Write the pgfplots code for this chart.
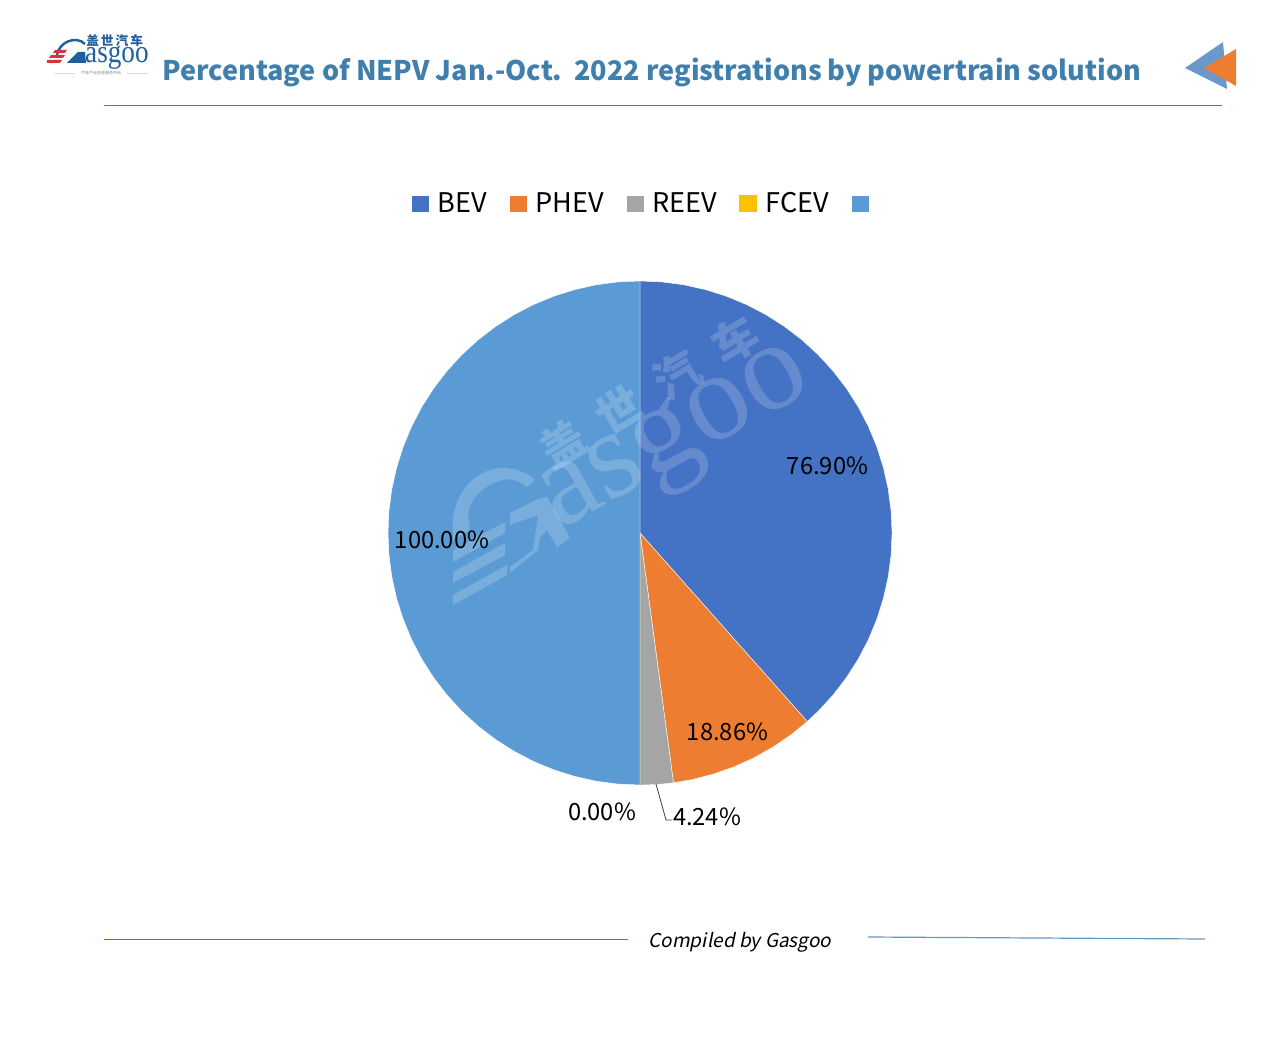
\documentclass[border=0pt]{standalone}
\usepackage{fontspec}
\setmainfont{Noto Sans CJK SC}
\newfontfamily\slantfont[FakeSlant=0.2]{Noto Sans CJK SC}
\newfontfamily\logoserif{Liberation Serif}
\usepackage{pgfplots}
\pgfplotsset{compat=1.18}
\definecolor{cBEV}{HTML}{4472C4}
\definecolor{cPHEV}{HTML}{ED7D31}
\definecolor{cREEV}{HTML}{A5A5A5}
\definecolor{cFCEV}{HTML}{FFC000}
\definecolor{cTOT}{HTML}{5B9BD5}
\definecolor{titleblue}{HTML}{3F7FAD}
\definecolor{logoblue}{HTML}{1F5F9E}
\definecolor{logored}{HTML}{D9333F}
\definecolor{arrowblue}{HTML}{6C97CB}
\begin{document}
\begin{tikzpicture}
\useasboundingbox (0,0) rectangle (960pt,793.5pt);
\begin{axis}[
  at={(0,0)}, anchor=south west,
  width=960pt, height=793.5pt, scale only axis,
  xmin=-2.53968, xmax=2.53968, ymin=-2.08333, ymax=2.11508,
  hide axis, clip=false,
  legend columns=-1,
  legend style={draw=none, fill=none, inner sep=0pt, outer sep=0pt,
    at={(0.3212,0.7948)}, anchor=south west,
    font=\fontsize{20.3pt}{22pt}\selectfont,
    /tikz/every even column/.append style={column sep=14.7pt},
    /tikz/every odd column/.append style={column sep=4pt}},
  legend image code/.code={\fill[#1] (0pt,-6.75pt) rectangle (13.5pt,6pt);},
]
% Values: BEV 76.90, PHEV 18.86, REEV 4.24, FCEV 0.00, total 100.00 (angles: half of the circle = 100)
\addplot[fill=cBEV, draw=white, line width=0.3pt, data cs=polar] coordinates {
 (0,0) (90,1) (85,1) (80,1) (75,1) (70,1) (65,1) (60,1) (55,1) (50,1) (45,1) (40,1) (35,1) (30,1) (25,1) (20,1) (15,1) (10,1) (5,1) (0,1)
 (-5,1) (-10,1) (-15,1) (-20,1) (-25,1) (-30,1) (-35,1) (-40,1) (-45,1) (-48.42,1) } --cycle;
\addlegendentry{BEV}
\addplot[fill=cPHEV, draw=white, line width=0.3pt, data cs=polar] coordinates {
 (0,0) (-48.42,1) (-53,1) (-58,1) (-63,1) (-68,1) (-73,1) (-78,1) (-82.37,1) } --cycle;
\addlegendentry{PHEV}
\addplot[fill=cREEV, draw=white, line width=0.3pt, data cs=polar] coordinates {
 (0,0) (-82.37,1) (-85,1) (-88,1) (-90,1) } --cycle;
\addlegendentry{REEV}
\addplot[fill=cFCEV, draw=none, data cs=polar] coordinates { (0,0) (-90,1) (-90,1) } --cycle;
\addlegendentry{FCEV}
\addplot[fill=cTOT, draw=white, line width=0.3pt, data cs=polar] coordinates {
 (0,0) (-90,1) (-95,1) (-100,1) (-105,1) (-110,1) (-115,1) (-120,1) (-125,1) (-130,1) (-135,1) (-140,1) (-145,1) (-150,1) (-155,1) (-160,1) (-165,1) (-170,1) (-175,1)
 (-180,1) (-185,1) (-190,1) (-195,1) (-200,1) (-205,1) (-210,1) (-215,1) (-220,1) (-225,1) (-230,1) (-235,1) (-240,1) (-245,1) (-250,1) (-255,1) (-260,1) (-265,1) (-270,1) } --cycle;
\addlegendentry{\phantom{x}}
\end{axis}
\begin{scope}[yshift=793.5pt, x=0.75pt, y=-0.75pt]
 % watermark
 \begin{scope}[white, opacity=0.18]
  \node[rotate=29, inner sep=0pt, anchor=base west, text=white] at (559,531) {\logoserif\fontsize{94pt}{94pt}\selectfont asgoo};
  \node[rotate=31, inner sep=0pt, text=white] at (649,392) {\bfseries\fontsize{34pt}{36pt}\selectfont 盖\hspace{15pt}世\hspace{17pt}汽\hspace{17pt}车};
  \fill (453,533) .. controls (450,505) and (465,478) .. (490,470) .. controls (505,465) and (525,470) .. (535,480) -- (527,487) .. controls (518,480) and (508,478) .. (503,480) .. controls (485,484) and (470,498) .. (468,513) -- (470,530) -- (453,540) -- cycle;
  \fill (453,550)--(505,522)--(505,533)--(453,562)--cycle;
  \fill (453,572)--(505,543)--(505,555)--(453,583)--cycle;
  \fill (453,595)--(507,565)--(507,575)--(453,605)--cycle;
  \fill (510,513)--(540,498)--(547,497)--(570,538)--(557,547)--(547,530)--(540,537)--(538,550)--(510,573)--(510,567)--(533,550)--(538,515)--(510,525)--cycle;
 \end{scope}
 % title
 \node[anchor=base west, inner sep=0pt, text=titleblue] at (162,81) {\bfseries\fontsize{20.26pt}{24pt}\selectfont Percentage of NEPV Jan.-Oct.\ \ 2022 registrations by powertrain solution};
 \draw[titleblue, line width=0.9pt] (104,105.2) -- (1222,105.2);
 % arrows
 \fill[arrowblue] (1185,68)--(1223,42)--(1227,89)--cycle;
 \fill[cPHEV] (1204,68)--(1236,49)--(1236,86)--cycle;
 % logo
 \draw[logoblue, line width=1.8pt] (57,55) .. controls (59,42) and (76,35) .. (85,44);
 \fill[logoblue] (67,63)--(78,52)--(85,52)--(86,63)--cycle;
 \node[anchor=base west, inner sep=0pt, text=logoblue, xscale=0.85] at (85,63) {\logoserif\fontsize{24pt}{24pt}\selectfont asgoo};
 \node[anchor=west, inner sep=0pt, text=logoblue] at (86,40.5) {\bfseries\fontsize{9.5pt}{10pt}\selectfont 盖\hspace{1.5pt}世\hspace{1.5pt}汽\hspace{1.5pt}车};
 \fill[logored] (55,50)--(67,50)--(65,53)--(53,53)--cycle;
 \fill[logored] (51,55)--(65,55)--(63,58)--(49,58)--cycle;
 \fill[logored] (47,60)--(62,60)--(60,63)--(47,63)--cycle;
 \node[inner sep=0pt, text=gray] at (101,73) {\fontsize{3pt}{4pt}\selectfont 汽车产业信息服务平台};
 \draw[gray!30, line width=0.3pt] (55,73)--(75,73) (127,73)--(148,73);
 % data labels
 \begin{scope}[every node/.style={inner sep=0pt, font=\fontsize{17.8pt}{20pt}\selectfont}]
  \node at (827.5,465.5) {76.90\%};
  \node at (442,539.5) {100.00\%};
  \node at (727.5,731.5) {18.86\%};
  \node at (602,811.5) {0.00\%};
  \node at (707,816.5) {4.24\%};
 \end{scope}
 \draw[black!75, line width=0.6pt] (656,784)--(666,820)--(672,820);
 % bottom
 \draw[titleblue, line width=0.75pt] (104,939)--(628,939);
 \draw[titleblue!80, line width=0.9pt] (868,937)--(1205,939);
 \node[inner sep=0pt] at (740,942.5) {\slantfont\fontsize{14.3pt}{18pt}\selectfont Compiled by Gasgoo};
\end{scope}
\end{tikzpicture}
\end{document}
